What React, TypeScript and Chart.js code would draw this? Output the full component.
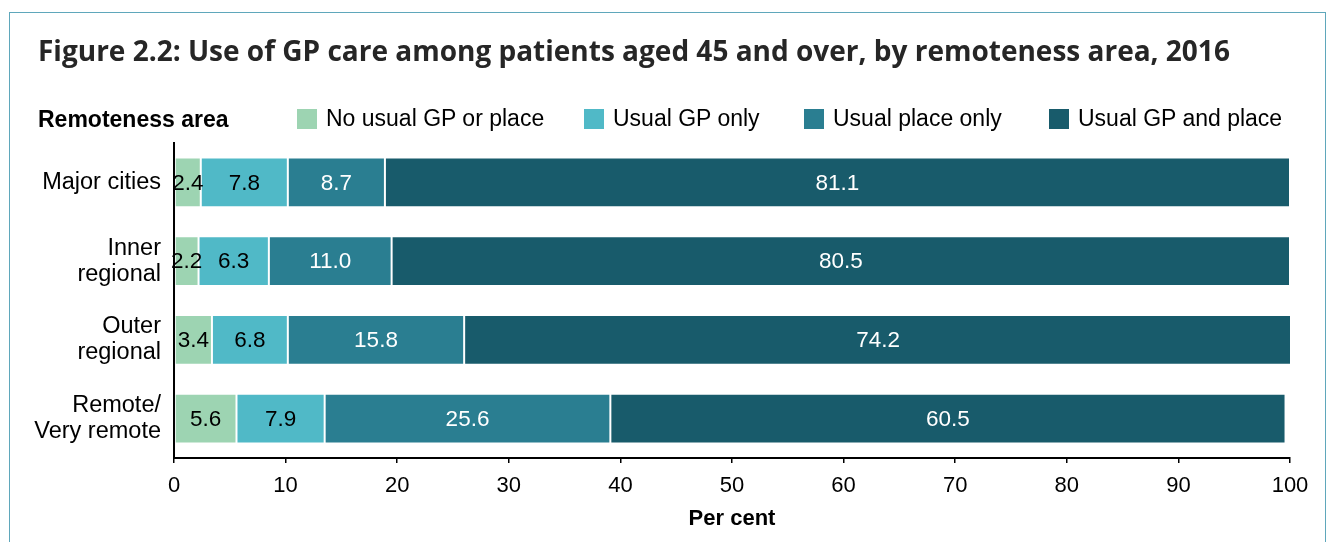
import React, { useEffect, useRef } from "react";
import { Chart, registerables } from "chart.js";

Chart.register(...registerables);

const categories: (string | string[])[] = [
  "Major cities",
  ["Inner", "regional"],
  ["Outer", "regional"],
  ["Remote/", "Very remote"],
];
const seriesNames = [
  "No usual GP or place",
  "Usual GP only",
  "Usual place only",
  "Usual GP and place",
];
const noUsual = [2.4, 2.2, 3.4, 5.6];
const gpOnly = [7.8, 6.3, 6.8, 7.9];
const placeOnly = [8.7, 11.0, 15.8, 25.6];
const gpAndPlace = [81.1, 80.5, 74.2, 60.5];
const xTicks = [0, 10, 20, 30, 40, 50, 60, 70, 80, 90, 100];

const colors = ["#9dd4b2", "#50b9c7", "#2a7e91", "#185b6b"];
const labelColors = ["#000000", "#000000", "#ffffff", "#ffffff"];
const legendX = [297, 584, 804, 1049];

const FONT = "'Liberation Sans', Arial, sans-serif";

const valueLabels = {
  id: "valueLabels",
  afterDatasetsDraw(chart: any) {
    const ctx = chart.ctx;
    ctx.save();
    ctx.font = `22.5px ${FONT}`;
    ctx.textAlign = "center";
    ctx.textBaseline = "middle";
    chart.data.datasets.forEach((ds: any, di: number) => {
      const meta = chart.getDatasetMeta(di);
      meta.data.forEach((el: any, i: number) => {
        const v = ds.data[i];
        const p = el.getCenterPoint();
        ctx.fillStyle = labelColors[di];
        ctx.fillText(v.toFixed(1), p.x, p.y + 1);
      });
    });
    ctx.restore();
  },
};

export default function App() {
  const ref = useRef<HTMLCanvasElement>(null);
  useEffect(() => {
    if (!ref.current) return;
    const all = [noUsual, gpOnly, placeOnly, gpAndPlace];
    const chart = new Chart(ref.current, {
      type: "bar",
      data: {
        labels: categories,
        datasets: all.map((d, i) => ({
          label: seriesNames[i],
          data: d,
          backgroundColor: colors[i],
          borderColor: "rgba(255,255,255,0.2)",
          borderWidth: 1,
          borderSkipped: false,
          categoryPercentage: 1,
          barPercentage: 0.63,
        })),
      },
      options: {
        indexAxis: "y",
        animation: false,
        responsive: false,
        devicePixelRatio: 1,
        layout: { padding: { top: 143, left: 0, right: 40, bottom: 0 } },
        plugins: {
          legend: { display: false },
          title: { display: false },
          tooltip: { enabled: false },
        },
        scales: {
          x: {
            stacked: true,
            min: 0,
            max: 100,
            afterBuildTicks: (scale: any) => {
              scale.ticks = xTicks.map((v) => ({ value: v }));
            },
            afterFit: (scale: any) => {
              scale.height = 84;
            },
            grid: {
              display: true,
              drawOnChartArea: false,
              drawTicks: true,
              tickLength: 5,
              color: "#000000",
              lineWidth: 1.5,
            },
            border: { display: true, color: "#000000", width: 2 },
            ticks: {
              color: "#000000",
              font: { family: FONT, size: 22 },
              padding: 10,
              maxRotation: 0,
            },
            title: {
              display: true,
              text: "Per cent",
              color: "#000000",
              font: { family: FONT, size: 22, weight: "bold" },
              padding: { top: 0, bottom: 10 },
            },
          },
          y: {
            stacked: true,
            afterFit: (scale: any) => {
              scale.width = 174;
            },
            grid: { display: false, drawTicks: false },
            border: { display: true, color: "#000000", width: 2 },
            ticks: {
              color: "#000000",
              font: { family: FONT, size: 23.5, lineHeight: 1.1 },
              padding: 13,
            },
          },
        },
      },
      plugins: [valueLabels],
    } as any);
    return () => chart.destroy();
  }, []);

  return (
    <div
      style={{
        position: "fixed",
        left: 0,
        top: 0,
        width: 1330,
        height: 542,
        overflow: "hidden",
        background: "#ffffff",
      }}
    >
      <canvas
        ref={ref}
        width={1330}
        height={542}
        style={{ position: "absolute", left: 0, top: 0, width: 1330, height: 542 }}
      />
      <div
        style={{
          position: "absolute",
          left: 9,
          top: 12,
          width: 1315,
          height: 600,
          border: "1px solid #5fa7bb",
          pointerEvents: "none",
        }}
      />
      <div
        style={{
          position: "absolute",
          left: 38,
          top: 36,
          fontFamily: "'Open Sans', sans-serif",
          fontWeight: 700,
          fontSize: 28,
          lineHeight: "28px",
          color: "#262626",
          whiteSpace: "nowrap",
        }}
      >
        Figure 2.2: Use of GP care among patients aged 45 and over, by remoteness area, 2016
      </div>
      <div
        style={{
          position: "absolute",
          left: 38,
          top: 108,
          fontFamily: FONT,
          fontWeight: 700,
          fontSize: 23,
          lineHeight: "23px",
          color: "#000000",
          whiteSpace: "nowrap",
        }}
      >
        Remoteness area
      </div>
      {seriesNames.map((name, i) => (
        <div
          key={name}
          style={{
            position: "absolute",
            left: legendX[i],
            top: 107,
            display: "flex",
            alignItems: "center",
            fontFamily: FONT,
            fontSize: 23,
            lineHeight: "23px",
            color: "#000000",
            whiteSpace: "nowrap",
          }}
        >
          <span
            style={{
              display: "inline-block",
              width: 20,
              height: 20,
              background: colors[i],
              marginRight: 9,
            }}
          />
          {name}
        </div>
      ))}
    </div>
  );
}
